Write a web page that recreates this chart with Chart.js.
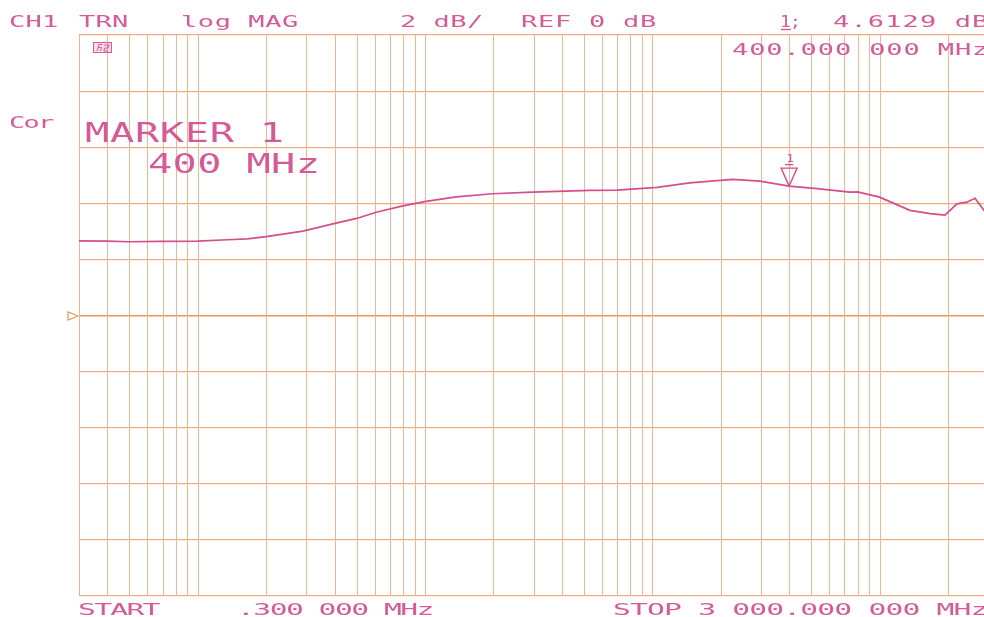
<!DOCTYPE html>
<html>
<head>
<meta charset="utf-8">
<title>CH1 TRN log MAG</title>
<script src="https://cdn.jsdelivr.net/npm/chart.js@4/dist/chart.umd.min.js"></script>
<style>
  html, body { margin: 0; padding: 0; background: #ffffff; overflow: hidden; }
  #wrap { width: 984px; height: 617px; overflow: hidden; position: relative; }
  canvas { display: block; }
</style>
</head>
<body>
<div id="wrap"><canvas id="plot" width="992" height="617"></canvas></div>
<script>
// Swept transmission magnitude, channel 1 (frequency in MHz, magnitude in dB)
const freqMHz = [0.3, 0.4, 0.5, 0.68, 1.0, 1.35, 1.65, 2.0, 2.9, 4.1, 5.0, 6.1, 7.9, 10.1, 13.7,
                 19.8, 29.7, 53, 70, 105, 146, 226, 297, 400, 530, 740, 800, 1000, 1360, 1670,
                 1940, 2190, 2420, 2630, 2880, 3000];
const magDb   = [2.66, 2.65, 2.63, 2.64, 2.65, 2.70, 2.73, 2.81, 3.01, 3.30, 3.46, 3.68, 3.90, 4.07, 4.23,
                 4.34, 4.40, 4.46, 4.47, 4.57, 4.73, 4.85, 4.79, 4.6129, 4.52, 4.40, 4.41, 4.22, 3.75, 3.63,
                 3.58, 3.98, 4.04, 4.18, 3.75, 3.55];

// Sweep and scale settings
const startMHz = 0.3, stopMHz = 3000;
const refDb = 0, dbPerDiv = 2, divisions = 10;

// Marker 1
const markerFreq = [400];
const markerDb = [4.6129];

// Log grid: 1..9 in each decade across the sweep
const gridFreqs = [startMHz];
for (let d = -1; d <= 3; d++) {
  for (let m = 1; m <= 9; m++) {
    const v = +(m * Math.pow(10, d)).toPrecision(3);
    if (v > startMHz && v < stopMHz) gridFreqs.push(v);
  }
}
gridFreqs.push(stopMHz);

const TEXT = '#d65a96';
const TRACE = '#d44e8b';
const GRID_V = '#f2b592';
const GRID_H = '#f0ab82';
const GRID_REF = '#ec9660';

// Plotter-style lettering: monospaced glyphs stretched to fill a span
function drawSpan(ctx, text, x0, x1, base, size, sx) {
  ctx.save();
  ctx.font = size + 'px "DejaVu Sans Mono"';
  ctx.fillStyle = TEXT;
  ctx.textBaseline = 'alphabetic';
  ctx.textAlign = 'left';
  const cell = ctx.measureText('0').width * 0.92;
  const n = text.length;
  const total = (x1 - x0) / sx;
  const adv = n > 1 ? (total - cell) / (n - 1) : 0;
  ctx.translate(x0, base);
  ctx.scale(sx, 1);
  for (let i = 0; i < n; i++) ctx.fillText(text[i], i * adv, 0);
  ctx.restore();
}

// Vertical log graticule, placed through the x scale
const logGrid = {
  id: 'logGrid',
  beforeDatasetsDraw(chart) {
    const ctx = chart.ctx;
    const xs = chart.scales.x;
    const { top, bottom } = chart.chartArea;
    ctx.save();
    ctx.strokeStyle = GRID_V;
    ctx.lineWidth = 1;
    ctx.beginPath();
    gridFreqs.forEach(f => {
      const x = Math.round(xs.getPixelForValue(f)) + 0.5;
      ctx.moveTo(x, top);
      ctx.lineTo(x, bottom);
    });
    ctx.stroke();
    ctx.restore();
  }
};

const annotations = {
  id: 'annotations',
  afterDatasetsDraw(chart) {
    const ctx = chart.ctx;
    const xs = chart.scales.x, ys = chart.scales.y;

    // reference-level pointer on the left edge
    const yRef = ys.getPixelForValue(refDb);
    const xl = chart.chartArea.left;
    ctx.save();
    ctx.strokeStyle = GRID_REF;
    ctx.lineWidth = 1.2;
    ctx.beginPath();
    ctx.moveTo(xl - 1, yRef + 0.5);
    ctx.lineTo(xl - 11, yRef - 3.5);
    ctx.lineTo(xl - 11, yRef + 4.5);
    ctx.closePath();
    ctx.stroke();
    ctx.restore();

    // marker triangle sitting on the trace
    markerFreq.forEach((f, i) => {
      const px = xs.getPixelForValue(f);
      const py = ys.getPixelForValue(markerDb[i]);
      ctx.save();
      ctx.strokeStyle = TRACE;
      ctx.lineWidth = 1.4;
      ctx.beginPath();
      ctx.moveTo(px, py);
      ctx.lineTo(px - 8, py - 18);
      ctx.lineTo(px + 8, py - 18);
      ctx.closePath();
      ctx.stroke();
      ctx.beginPath();
      ctx.moveTo(px - 4, py - 21.5);
      ctx.lineTo(px + 4, py - 21.5);
      ctx.stroke();
      ctx.restore();
      drawSpan(ctx, String(i + 1), px - 3, px + 3, py - 24, 10, 1.3);
    });

    // small status box at the top-left of the graticule
    ctx.save();
    ctx.strokeStyle = TEXT;
    ctx.fillStyle = 'rgba(214,90,150,0.2)';
    ctx.lineWidth = 1;
    ctx.fillRect(93.5, 42.5, 18, 10);
    ctx.strokeRect(93.5, 42.5, 18, 10);
    ctx.beginPath();
    ctx.moveTo(97, 51); ctx.lineTo(99, 44.5); ctx.lineTo(102.5, 44.5);
    ctx.moveTo(98, 47.5); ctx.lineTo(101.5, 47.5); ctx.lineTo(100.5, 51);
    ctx.moveTo(104, 45); ctx.lineTo(109, 45); ctx.lineTo(108, 48); ctx.lineTo(104.5, 48); ctx.lineTo(104, 51); ctx.lineTo(108, 51);
    ctx.stroke();
    ctx.restore();

    // header line
    const hs = 15, hx = 1.8;
    drawSpan(ctx, 'CH1', 9, 57, 27, hs, hx);
    drawSpan(ctx, 'TRN', 79, 127, 27, hs, hx);
    drawSpan(ctx, 'log MAG', 181, 297, 27, hs, hx);
    drawSpan(ctx, '2 dB/', 400, 482, 27, hs, hx);
    drawSpan(ctx, 'REF 0 dB', 521, 655, 27, hs, hx);
    drawSpan(ctx, '1;', 780, 800, 27, hs, 1.2);
    ctx.save();
    ctx.strokeStyle = TEXT; ctx.lineWidth = 1.4;
    ctx.beginPath(); ctx.moveTo(781, 29.5); ctx.lineTo(791, 29.5); ctx.stroke();
    ctx.restore();
    drawSpan(ctx, '4.6129 dB', 833, 987, 27, hs, hx);
    drawSpan(ctx, '400.000 000 MHz', 732, 987, 55, hs, hx);

    drawSpan(ctx, 'Cor', 9, 53, 128, hs, hx);
    drawSpan(ctx, 'MARKER 1', 85, 282, 142, 26, 1.55);
    drawSpan(ctx, '400 MHz', 148, 318, 173, 26, 1.55);

    // footer
    const fs = 16.5, fx = 1.8;
    drawSpan(ctx, 'START', 78, 159, 615, fs, fx);
    drawSpan(ctx, '.300 000 MHz', 237, 433, 615, fs, fx);
    drawSpan(ctx, 'STOP 3 000.000 000 MHz', 613, 987, 615, fs, fx);
  }
};

new Chart(document.getElementById('plot'), {
  type: 'line',
  data: {
    datasets: [{
      data: freqMHz.map((f, i) => ({ x: f, y: magDb[i] })),
      borderColor: TRACE,
      borderWidth: 1.7,
      pointRadius: 0,
      tension: 0,
      fill: false
    }]
  },
  options: {
    responsive: false,
    animation: false,
    devicePixelRatio: 1,
    layout: { padding: { left: 79, right: 4, top: 35, bottom: 21 } },
    plugins: { legend: { display: false }, tooltip: { enabled: false } },
    scales: {
      x: {
        type: 'logarithmic',
        min: startMHz,
        max: stopMHz,
        afterBuildTicks: s => { s.ticks = gridFreqs.map(v => ({ value: v })); },
        ticks: { display: false },
        grid: { display: false, drawTicks: false },
        border: { display: false }
      },
      y: {
        type: 'linear',
        min: refDb - dbPerDiv * divisions / 2,
        max: refDb + dbPerDiv * divisions / 2,
        ticks: { display: false, stepSize: dbPerDiv },
        grid: {
          color: c => (c.tick && c.tick.value === refDb) ? GRID_REF : GRID_H,
          lineWidth: c => (c.tick && c.tick.value === refDb) ? 1.5 : 1.2,
          drawTicks: false
        },
        border: { display: false }
      }
    }
  },
  plugins: [logGrid, annotations]
});
</script>
</body>
</html>
